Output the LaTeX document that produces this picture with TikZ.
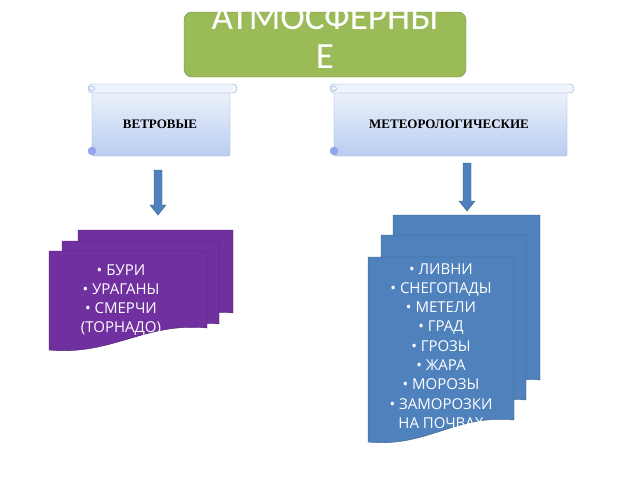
\documentclass[tikz,border=0pt]{standalone}
\usepackage{fontspec}
\setmainfont{Liberation Serif}
\newfontfamily\listfont{Open Sans}
\newfontfamily\titlefont{Carlito}
\definecolor{titlegreen}{HTML}{9BBB59}
\definecolor{titleline}{HTML}{71893F}
\definecolor{scrolltop}{HTML}{EEF3FC}
\definecolor{scrollbot}{HTML}{B9CDF0}
\definecolor{scrollline}{HTML}{8EA9D8}
\definecolor{arrowblue}{HTML}{4F81BD}
\definecolor{arrowline}{HTML}{385D8A}
\definecolor{windpurple}{HTML}{7030A0}
\definecolor{windline}{HTML}{4F2270}
\definecolor{meteoblue}{HTML}{4F81BD}
% one sheet of a stack: left, top, right, bottom of its right edge
\newcommand{\sheet}[5]{\filldraw[#5] (#1,#2) -- (#3,#2) -- (#3,#4)
  .. controls ({#3-0.4*(#3-#1)},{#4-6}) and ({#1+0.4*(#3-#1)},{#4+28}) .. (#1,{#4+22}) -- cycle;}
% a scroll banner: left, top, right, bottom
\newcommand{\scroll}[4]{
  \shade[top color=scrolltop,bottom color=scrollbot,draw=scrollline,rounded corners=2pt]
    ({#1+4},{#2+5}) rectangle ({#3-7},#4);
  \filldraw[fill=scrolltop,draw=scrollline,rounded corners=4pt] (#1,#2) rectangle (#3,{#2+9});
  \draw[scrollline] ({#1+4},{#2+4.5}) circle (2.5);
  \filldraw[fill=scrollbot!80!blue,draw=scrollline] ({#1+4},{#4-5}) circle (4);}
\newcommand{\blockarrow}[3]{\filldraw[fill=arrowblue,draw=arrowline]
  ({#1-4},#2) -- ({#1+4},#2) -- ({#1+4},{#3-10}) -- ({#1+8},{#3-10}) -- (#1,#3)
  -- ({#1-8},{#3-10}) -- ({#1-4},{#3-10}) -- cycle;}
\begin{document}
\begin{tikzpicture}[x=1pt,y=-1pt,
    listtext/.style={text=white,font=\listfont\fontsize{15}{19.3}\selectfont,align=center},
    scrolltext/.style={font=\bfseries\fontsize{13}{15}\selectfont}]
  \useasboundingbox (0,0) rectangle (640,480);

  % title
  \filldraw[fill=titlegreen,draw=titleline,rounded corners=8pt] (184,12) rectangle (466,77);
  \node[text=white,font=\titlefont\fontsize{37}{39}\selectfont,align=center] (title)
    at (325,37) {АТМОСФЕРНЫ\\Е};

  % the two kinds
  \scroll{88}{84}{237}{156}
  \node[scrolltext] (wind) at (160,124) {ВЕТРОВЫЕ};
  \scroll{330}{84}{574}{156}
  \node[scrolltext] (meteo) at (449,124) {МЕТЕОРОЛОГИЧЕСКИЕ};

  \blockarrow{158}{170}{215}
  \blockarrow{467}{163}{211}

  % wind stack
  \sheet{78}{230}{233}{313}{fill=windpurple,draw=windline}
  \sheet{62}{241}{219}{324}{fill=windpurple,draw=windline}
  \sheet{49}{251}{207}{328}{fill=windpurple,draw=windline}
  \node[listtext] (storms) at (121,300)
    {• БУРИ\\• УРАГАНЫ\\• СМЕРЧИ\\(ТОРНАДО)};

  % weather stack
  \sheet{393}{215}{540}{380}{fill=meteoblue,draw=arrowline}
  \sheet{381}{235}{526}{400}{fill=meteoblue,draw=arrowline}
  \sheet{368}{257}{514}{420}{fill=meteoblue,draw=arrowline}
  \node[listtext] (weather) at (441,346)
    {• ЛИВНИ\\• СНЕГОПАДЫ\\• МЕТЕЛИ\\• ГРАД\\• ГРОЗЫ\\• ЖАРА\\• МОРОЗЫ\\• ЗАМОРОЗКИ\\НА ПОЧВАХ};
\end{tikzpicture}
\end{document}
